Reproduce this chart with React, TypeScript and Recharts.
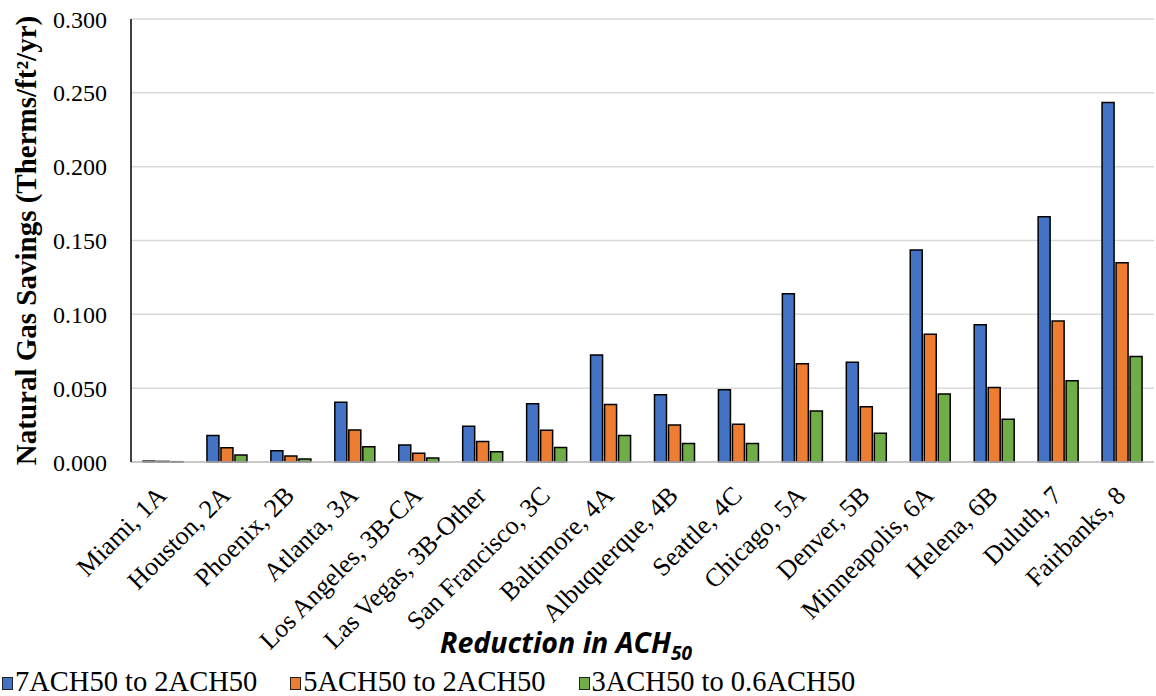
import React from 'react';
import { BarChart, Bar, XAxis, YAxis, CartesianGrid } from 'recharts';

const cities = [
  'Miami, 1A', 'Houston, 2A', 'Phoenix, 2B', 'Atlanta, 3A', 'Los Angeles, 3B-CA',
  'Las Vegas, 3B-Other', 'San Francisco, 3C', 'Baltimore, 4A', 'Albuquerque, 4B',
  'Seattle, 4C', 'Chicago, 5A', 'Denver, 5B', 'Minneapolis, 6A', 'Helena, 6B',
  'Duluth, 7', 'Fairbanks, 8',
];
const ach7to2 = [0.0006, 0.018, 0.0077, 0.0405, 0.0115, 0.0242, 0.0395, 0.0725, 0.0455, 0.049, 0.114, 0.0675, 0.1435, 0.093, 0.166, 0.2435];
const ach5to2 = [0.0004, 0.0097, 0.004, 0.0217, 0.0059, 0.0138, 0.0215, 0.039, 0.025, 0.0255, 0.0665, 0.0375, 0.0865, 0.0505, 0.0955, 0.135];
const ach3to06 = [0.0002, 0.0047, 0.002, 0.0104, 0.0027, 0.007, 0.0098, 0.018, 0.0125, 0.0125, 0.0345, 0.0195, 0.046, 0.029, 0.055, 0.0714];
const seriesNames = ['7ACH50 to 2ACH50', '5ACH50 to 2ACH50', '3ACH50 to 0.6ACH50'];
const seriesColors = ['#4472C4', '#ED7D31', '#70AD47'];
const yTicks = [0, 0.05, 0.1, 0.15, 0.2, 0.25, 0.3];

const data = cities.map((city, i) => ({
  city,
  s1: ach7to2[i],
  s2: ach5to2[i],
  s3: ach3to06[i],
}));

const serif = '"Liberation Serif", "Times New Roman", serif';

const CityTick = (props: any) => {
  const { x, y, payload } = props;
  const tx = x + 5;
  const ty = y + 33;
  return (
    <text x={tx} y={ty} transform={`rotate(-45, ${tx}, ${ty})`} textAnchor="end"
      fontSize={26} fontFamily={serif} fill="#000">
      {payload.value}
    </text>
  );
};

// title sits a bit left of the plot centre, as in the source figure
const XTitle = () => (
  <text x={566} y={653} textAnchor="middle" fontSize={28.5}
    fontFamily='"Open Sans", sans-serif' fontWeight="bold" fontStyle="italic" fill="#000">
    Reduction in ACH<tspan dy={7} fontSize={19}>50</tspan>
  </text>
);

const YTitle = (props: any) => {
  const vb = props.viewBox;
  const cx = 36;
  const cy = vb.y + vb.height / 2;
  return (
    <text x={cx} y={cy} transform={`rotate(-90, ${cx}, ${cy})`} textAnchor="middle"
      fontSize={29} fontFamily={serif} fontWeight="bold" fill="#000">
      Natural Gas Savings (Therms/ft²/yr)
    </text>
  );
};

export default function App() {
  return (
    <div style={{ position: 'absolute', left: 0, top: 0, width: 1156, height: 696, background: '#fff' }}>
      <BarChart width={1156} height={696} data={data}
        margin={{ top: 19, right: 2, left: 0, bottom: 0 }}
        barCategoryGap={12} barGap={2}>
        <CartesianGrid vertical={false} stroke="#D9D9D9" strokeWidth={1.5} />
        <XAxis dataKey="city" interval={0} height={234} tickLine={false} tickSize={0}
          axisLine={{ stroke: '#BFBFBF', strokeWidth: 1.5 }} tick={<CityTick />}
          label={<XTitle />} />
        <XAxis xAxisId="top" dataKey="city" orientation="top" height={0} tick={false}
          tickLine={false} axisLine={{ stroke: '#000', strokeWidth: 1.5 }} />
        <YAxis width={131} domain={[0, 0.3]} ticks={yTicks} tickLine={false} tickSize={0}
          tickMargin={24} tickFormatter={(v: number) => v.toFixed(3)}
          tick={{ fontSize: 24, fontFamily: serif, fill: '#000' }}
          axisLine={{ stroke: '#000', strokeWidth: 1.5 }} label={<YTitle />} />
        <YAxis yAxisId="right" orientation="right" width={0} tick={false} tickLine={false}
          axisLine={{ stroke: '#000', strokeWidth: 1.5 }} />
        <Bar dataKey="s1" name={seriesNames[0]} fill={seriesColors[0]} stroke="#000" strokeWidth={1.5} isAnimationActive={false} />
        <Bar dataKey="s2" name={seriesNames[1]} fill={seriesColors[1]} stroke="#000" strokeWidth={1.5} isAnimationActive={false} />
        <Bar dataKey="s3" name={seriesNames[2]} fill={seriesColors[2]} stroke="#000" strokeWidth={1.5} isAnimationActive={false} />
      </BarChart>
      <div style={{ position: 'absolute', left: 2, top: 667, display: 'flex', gap: 33, fontFamily: serif, fontSize: 28.5, lineHeight: '30px', color: '#000', whiteSpace: 'nowrap' }}>
        {seriesNames.map((n, i) => (
          <div key={n} style={{ display: 'flex', alignItems: 'center' }}>
            <span style={{ display: 'inline-block', width: 9, height: 11, background: seriesColors[i], border: '1.5px solid #222', marginRight: 2, marginTop: 3 }} />
            <span>{n}</span>
          </div>
        ))}
      </div>
    </div>
  );
}
